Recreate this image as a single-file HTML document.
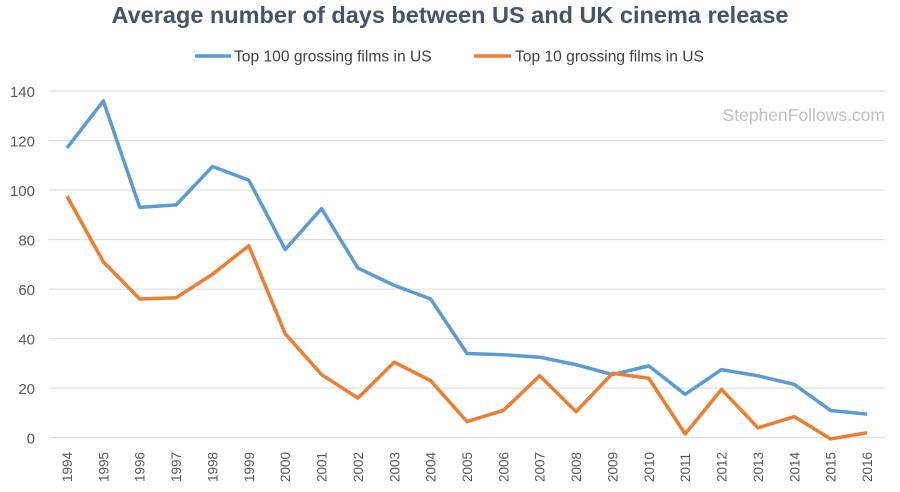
<!DOCTYPE html>
<html><head><meta charset="utf-8"><style>
body{margin:0;background:#fff;width:900px;height:487px;overflow:hidden;font-family:"Liberation Sans",sans-serif}
</style></head><body>
<svg id="chart" width="900" height="487" xmlns="http://www.w3.org/2000/svg">
<text x="450" y="23" text-anchor="middle" font-size="23.5" font-weight="bold" fill="#44546a">Average number of days between US and UK cinema release</text>
<g>
<g><line x1="195" y1="56" x2="231" y2="56" stroke="#5b9bd5" stroke-width="3.5"/><text x="234" y="61.5" font-size="15.6" fill="#404040">Top 100 grossing films in US</text></g>
<g><line x1="474" y1="56" x2="511" y2="56" stroke="#ed7d31" stroke-width="3.5"/><text x="515" y="61.5" font-size="15.6" fill="#404040">Top 10 grossing films in US</text></g>
</g>
<text x="885" y="121" text-anchor="end" font-size="17.5" fill="#c0c0c0">StephenFollows.com</text>
<g id="grid"></g>
<g id="yaxis"></g>
<g id="xaxis"></g>
<g id="series"></g>
</svg>
<script>
const years=[1994,1995,1996,1997,1998,1999,2000,2001,2002,2003,2004,2005,2006,2007,2008,2009,2010,2011,2012,2013,2014,2015,2016];
const top100=[117,136,93,94,109.5,104,76,92.5,68.5,61.5,56,34,33.5,32.5,29.5,25.5,29,17.5,27.5,25,21.5,11,9.5];
const top10=[97.5,71,56,56.5,66,77.5,42,25.5,16,30.5,23,6.5,11,25,10.5,26,24,1.5,19.5,4,8.5,-0.5,2];
const yTicks=[0,20,40,60,80,100,120,140];
const NS="http://www.w3.org/2000/svg";
const x=i=>67+i*(800/22);
const y=v=>437.7-v*(346.7/140);
function mk(t,a,p){const e=document.createElementNS(NS,t);for(const k in a)e.setAttribute(k,a[k]);p.appendChild(e);return e;}
const g=document.getElementById('grid'),ya=document.getElementById('yaxis'),xa=document.getElementById('xaxis'),s=document.getElementById('series');
yTicks.forEach(v=>{
const l=mk('line',{x1:49,x2:885,y1:y(v),y2:y(v),stroke:'#d9d9d9','stroke-width':1},g);


const t=mk('text',{x:35,y:y(v)+6,'text-anchor':'end','font-size':15,fill:'#595959'},ya);
t.textContent=v;


});
years.forEach((yr,i)=>{
const t=mk('text',{transform:`translate(${x(i)+5},482) rotate(-90)`,'font-size':13.5,fill:'#595959'},xa);
t.textContent=yr;


});
[[top100,'#5b9bd5','line-top100'],[top10,'#ed7d31','line-top10']].forEach(([d,c,n])=>{
const p=mk('polyline',{points:d.map((v,i)=>x(i)+','+y(v)).join(' '),fill:'none',stroke:c,'stroke-width':3.5,'stroke-linejoin':'round'},s);


});
</script>
</body></html>
